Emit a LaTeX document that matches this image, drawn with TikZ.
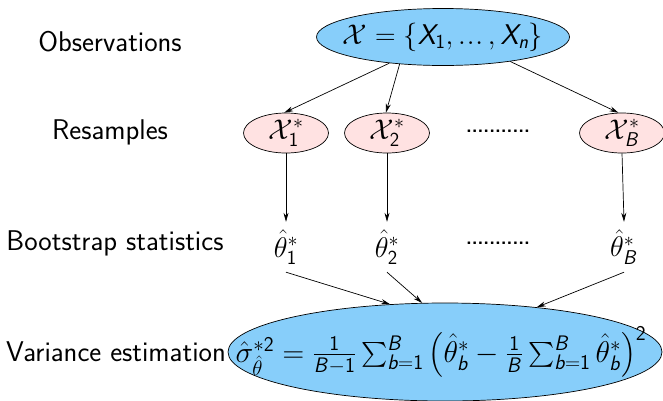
\documentclass[tikz,border=0pt]{standalone}
\usepackage{fix-cm}
\usepackage{amsmath}
\usetikzlibrary{shapes.geometric,arrows.meta}
\DeclareSymbolFont{sfit}{OT1}{cmss}{m}{sl}
\DeclareSymbolFont{sfup}{OT1}{cmss}{m}{n}
\DeclareMathSymbol{X}{\mathalpha}{sfit}{`X}
\DeclareMathSymbol{n}{\mathalpha}{sfit}{`n}
\DeclareMathSymbol{B}{\mathalpha}{sfit}{`B}
\DeclareMathSymbol{b}{\mathalpha}{sfit}{`b}
\DeclareMathSymbol{1}{\mathalpha}{sfup}{`1}
\DeclareMathSymbol{2}{\mathalpha}{sfup}{`2}
\definecolor{skyfill}{RGB}{135,206,250}
\definecolor{pinkfill}{RGB}{255,226,226}
\begin{document}
\begin{tikzpicture}[x=1pt,y=-1pt,
  every node/.style={font=\fontsize{28.5}{34}\sffamily},
  lab/.style={anchor=center},
  dots/.style={font=\fontsize{19}{22}\sffamily\bfseries},
  bigell/.style={ellipse,draw,fill=skyfill,line width=0.7pt,inner sep=0pt},
  resell/.style={ellipse,draw,fill=pinkfill,line width=0.7pt,minimum width=85pt,minimum height=40pt,inner sep=0pt},
  stat/.style={minimum height=50pt,inner sep=0pt},
  arr/.style={-{Stealth[length=9pt,width=5pt]},line width=0.7pt}]
\useasboundingbox (0,0) rectangle (663,400);
% labels
\node[lab] (lobs) at (110,42) {Observations};
\node[lab] (lres) at (110,132) {Resamples};
\node[lab] (lbs) at (115,243) {Bootstrap statistics};
\node[lab] (lvar) at (116,352) {Variance estimation};
% top
\node[bigell,minimum width=253pt,minimum height=57pt] (top) at (443,37) {};
\node (toptext) at (443,37) {$\mathcal{X}=\{X_1,\mathinner{.\kern1pt.\kern1pt.},X_n\}$};
% resamples
\node[resell] (r1) at (286,133) {$\mathcal{X}_1^*$};
\node[resell] (r2) at (387,133) {$\mathcal{X}_2^*$};
\node[resell] (rB) at (622,133) {$\mathcal{X}_B^*$};
\node[dots] (d1) at (498,131) {...........};
% stats
\node[stat] (t1) at (286,247) {$\hat\theta_1^*$};
\node[stat] (t2) at (387,247) {$\hat\theta_2^*$};
\node[stat] (tB) at (624,247) {$\hat\theta_B^*$};
\node[dots] (d2) at (498,243) {...........};
% bottom
\node[bigell,minimum width=434pt,minimum height=98pt] (bot) at (445,352) {};
\node[font=\fontsize{30}{36}\sffamily] (form) at (441,352) {$\hat\sigma^{*2}_{\hat\theta}=\frac{1}{B-1}\sum_{b=1}^{B}\left(\hat\theta_b^*-\frac{1}{B}\sum_{b=1}^{B}\hat\theta_b^*\right)^2$};
% arrows
\draw[arr] (top.206) -- (r1.95);
\draw[arr] (top.212) -- (r2.93);
\draw[arr] (top.340) -- (rB.100);
\draw[arr] (r1.south) -- (t1.north);
\draw[arr] (r2.south) -- (t2.north);
\draw[arr] (rB.south) -- (tB.north);
\draw[arr] (t1.south) -- (bot.139);
\draw[arr] (t2.south) -- (bot.115);
\draw[arr] (tB.south) -- (bot.26);
\end{tikzpicture}
\end{document}
